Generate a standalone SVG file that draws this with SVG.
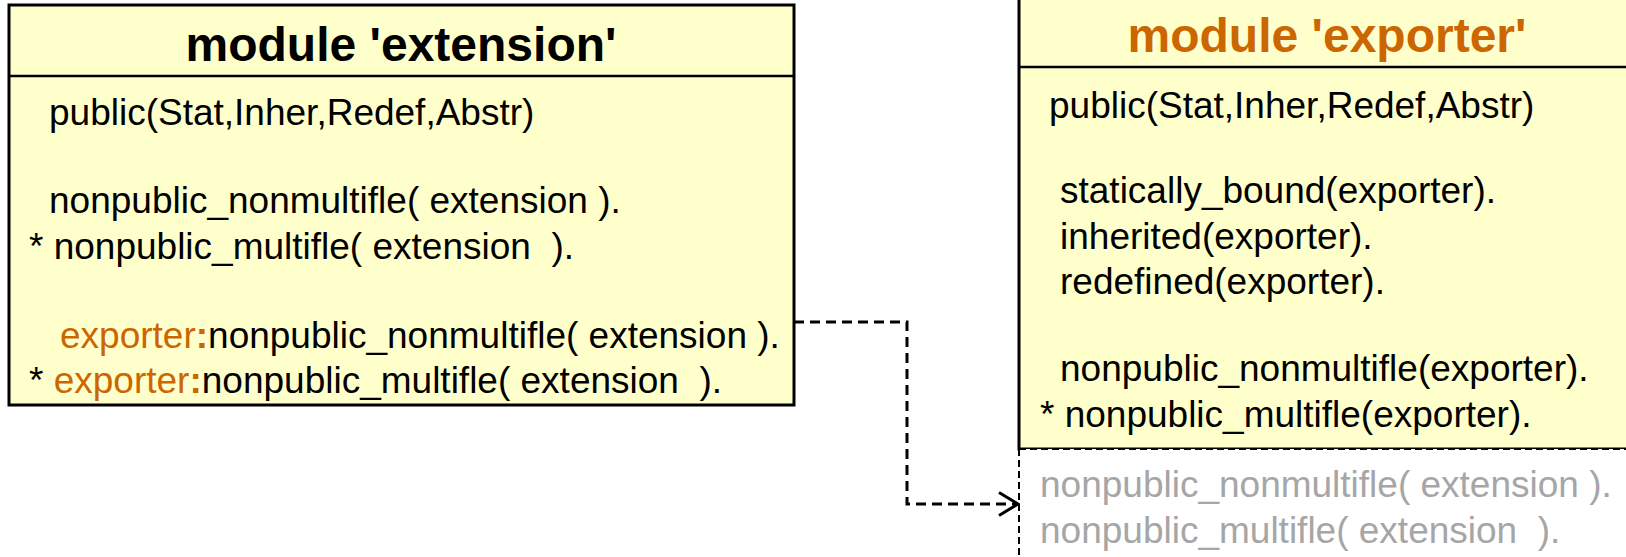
<svg xmlns="http://www.w3.org/2000/svg" width="1626" height="557" viewBox="0 0 1626 557">
<defs>
<style>
.box{fill:#FFFFCC;stroke:#000;stroke-width:3}
.div{stroke:#000;stroke-width:2.5}
.title{font-family:"Liberation Sans",Arial,sans-serif;font-weight:bold;font-size:48px;text-anchor:middle}
.t{font-family:"Liberation Sans",Arial,sans-serif;font-size:37px;fill:#000;white-space:pre}
.or{fill:#CC6600}
.gr{fill:#A6A6A6}
.conn{fill:none;stroke:#000;stroke-width:3;stroke-dasharray:10,6}
.thin{fill:none;stroke:#000;stroke-width:2;stroke-dasharray:7,4}
</style>
<marker id="arr" viewBox="0 0 22 26" refX="20" refY="13" markerWidth="22" markerHeight="26" markerUnits="userSpaceOnUse" orient="auto">
<path d="M1,1.5 L20,13 L1,24.5" fill="none" stroke="#000" stroke-width="3"/>
</marker>
</defs>
<rect width="1626" height="557" fill="#fff"/>
<g id="extension">
<rect class="box" x="9" y="5" width="785" height="400"/>
<line class="div" x1="9" y1="76" x2="794" y2="76"/>
<text class="title" x="401" y="61" fill="#000">module 'extension'</text>
<text class="t" x="49" y="125">public(Stat,Inher,Redef,Abstr)</text>
<text class="t" x="49" y="213">nonpublic_nonmultifle( extension ).</text>
<text class="t" x="29" y="259" xml:space="preserve">* nonpublic_multifle( extension  ).</text>
<text class="t" x="60" y="348"><tspan class="or">exporter</tspan><tspan class="or" font-weight="bold">:</tspan>nonpublic_nonmultifle( extension ).</text>
<text class="t" x="29" y="393" xml:space="preserve">* <tspan class="or">exporter</tspan><tspan class="or" font-weight="bold">:</tspan>nonpublic_multifle( extension  ).</text>
</g>
<g id="exporter">
<rect class="box" x="1019" y="-10" width="700" height="459"/>
<line class="div" x1="1019" y1="67" x2="1626" y2="67"/>
<text class="title" x="1327" y="52" fill="#CC6600">module 'exporter'</text>
<text class="t" x="1049" y="118">public(Stat,Inher,Redef,Abstr)</text>
<text class="t" x="1060" y="203">statically_bound(exporter).</text>
<text class="t" x="1060" y="249">inherited(exporter).</text>
<text class="t" x="1060" y="294">redefined(exporter).</text>
<text class="t" x="1060" y="381">nonpublic_nonmultifle(exporter).</text>
<text class="t" x="1040" y="427" xml:space="preserve">* nonpublic_multifle(exporter).</text>
<rect x="1019" y="449" width="620" height="120" fill="#fff"/>
<path class="thin" d="M1019,449 L1626,449 M1019,449 L1019,557"/>
<text class="t gr" x="1040" y="497">nonpublic_nonmultifle( extension ).</text>
<text class="t gr" x="1040" y="543" xml:space="preserve">nonpublic_multifle( extension  ).</text>
</g>
<g id="connectors">
<path class="conn" d="M794,322 L907,322 L907,504 L1018,504" marker-end="url(#arr)"/>
</g>
</svg>
